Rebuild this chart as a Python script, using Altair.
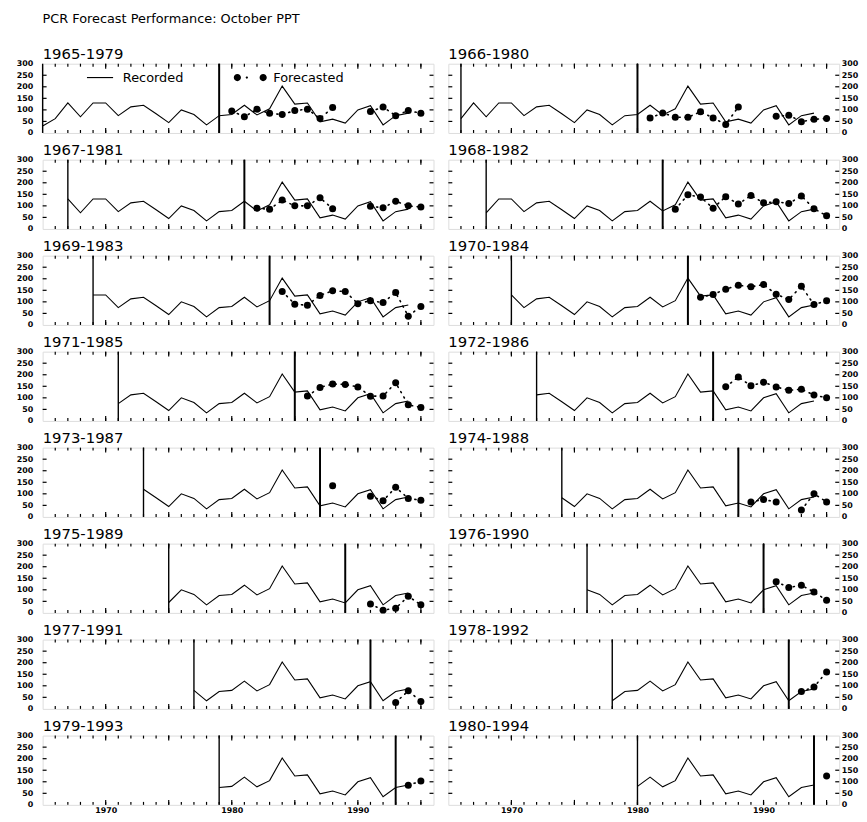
import altair as alt
import pandas as pd

# ---------------- data ----------------
rec_years = list(range(1965, 1995))
recorded = [30, 62, 130, 70, 130, 130, 75, 113, 120, 83, 45, 100, 80, 35, 75,
            80, 120, 78, 105, 203, 125, 130, 48, 60, 43, 100, 118, 35, 75, 86]

starts = list(range(1965, 1981))
ends = list(range(1979, 1995))
last_year = 1995

forecasts = [
    [95, 70, 103, 85, 80, 97, 103, 63, 110, None, None, 93, 112, 75, 97, 85],
    [65, 87, 68, 68, 92, 65, 37, 113, None, None, 72, 77, 49, 59, 63],
    [90, 85, 125, 100, 100, 135, 88, None, None, 98, 92, 120, 100, 95],
    [85, 148, 138, 90, 140, 108, 145, 113, 118, 110, 143, 88, 57],
    [145, 90, 85, 128, 148, 145, 92, 105, 97, 140, 38, 80],
    [120, 132, 155, 172, 165, 175, 133, 110, 168, 88, 105],
    [108, 145, 160, 158, 147, 107, 108, 165, 70, 58],
    [148, 190, 152, 168, 147, 133, 137, 112, 100],
    [135, None, None, 90, 70, 128, 80, 72],
    [65, 75, 65, None, 30, 100, 65],
    [None, 38, 12, 20, 72, 35],
    [135, 110, 120, 90, 55],
    [None, 28, 78, 32],
    [75, 95, 160],
    [85, 103],
    [125],
]

y_values = [0, 50, 100, 150, 200, 250, 300]
y_tick_values = [50, 100, 150, 200, 250]
x_label_years = [1970, 1980, 1990]
minor_tick_years = list(range(1966, 1996))
major_tick_years = [1970, 1975, 1980, 1985, 1990, 1995]
series_names = ["Recorded", "Forecasted"]
main_title = "PCR Forecast Performance: October PPT"

# ---------------- style ----------------
FONT = "DejaVu Sans"
W, H = 395, 70


def circ(cx, r):
    return f"M{cx - r},0A{r},{r} 0 1,0 {cx + r},0A{r},{r} 0 1,0 {cx - r},0Z"


line_path = "M-0.8,-0.035L0.8,-0.035L0.8,0.035L-0.8,0.035Z"
dots_path = circ(-0.8, 0.22) + circ(-0.22, 0.07) + circ(0.78, 0.22)

xscale = alt.Scale(domain=[1965, 1996], nice=False, zero=False)
yscale = alt.Scale(domain=[0, 300], nice=False, zero=True)


def make_panel(k, bottom):
    s, e = starts[k], ends[k]
    right = (k % 2 == 1)
    rec = pd.DataFrame({"year": rec_years, "value": recorded})
    rec = rec[rec["year"] >= s].reset_index(drop=True)
    fy = list(range(e + 1, last_year + 1))
    fc = pd.DataFrame({"year": fy, "value": forecasts[k]})

    yaxis = alt.Axis(orient="right" if right else "left", values=y_values,
                     ticks=False, domain=False, grid=False, title=None,
                     labelPadding=2 if right else 10, labelFontSize=8,
                     labelFontWeight="bold", labelFont=FONT, labelColor="black")
    if bottom:
        xaxis = alt.Axis(values=x_label_years, format="d", ticks=False,
                         domain=False, grid=False, title=None, labelPadding=2,
                         labelFontSize=8, labelFontWeight="bold", labelFont=FONT,
                         labelColor="black")
    else:
        xaxis = None
    X = alt.X("year:Q", scale=xscale, axis=xaxis)
    Y = alt.Y("value:Q", scale=yscale, axis=yaxis)

    layers = []
    # recorded
    layers.append(alt.Chart(rec).mark_line(color="black", strokeWidth=1.1)
                  .encode(x=X, y=Y))
    # forecasts: dotted connection + big dots
    layers.append(alt.Chart(fc).mark_line(color="black", strokeWidth=1.6,
                                          strokeDash=[1.2, 5], strokeCap="round")
                  .encode(x=X, y=Y))
    layers.append(alt.Chart(fc).mark_circle(color="black", size=50, opacity=1)
                  .encode(x=X, y=Y))
    # window boundary lines
    layers.append(alt.Chart(pd.DataFrame({"year": [s]})).mark_rule(color="black", strokeWidth=1.4)
                  .encode(x=X))
    layers.append(alt.Chart(pd.DataFrame({"year": [e]})).mark_rule(color="black", strokeWidth=2)
                  .encode(x=X))
    # inward ticks
    minor = pd.DataFrame({"year": minor_tick_years})
    major = pd.DataFrame({"year": major_tick_years})
    for df, ln in ((minor, 3), (major, 5)):
        layers.append(alt.Chart(df).mark_rule(color="black", strokeWidth=1.2)
                      .encode(x=X, y=alt.value(0), y2=alt.value(ln)))
        layers.append(alt.Chart(df).mark_rule(color="black", strokeWidth=1.2)
                      .encode(x=X, y=alt.value(H), y2=alt.value(H - ln)))
    yt = pd.DataFrame({"value": y_tick_values})
    layers.append(alt.Chart(yt).mark_rule(color="black", strokeWidth=1.2)
                  .encode(y=Y, x=alt.value(0), x2=alt.value(4)))
    layers.append(alt.Chart(yt).mark_rule(color="black", strokeWidth=1.2)
                  .encode(y=Y, x=alt.value(W), x2=alt.value(W - 4)))

    if k == 0:
        leg = pd.concat([rec.assign(series="Recorded"), fc.assign(series="Forecasted")])
        layers.append(
            alt.Chart(leg).mark_point(filled=True, opacity=0, color="black")
            .encode(x=X, y=Y,
                    shape=alt.Shape("series:N",
                                    scale=alt.Scale(domain=series_names,
                                                    range=[line_path, dots_path]),
                                    legend=alt.Legend(orient="none", legendX=41, legendY=-3,
                                                      direction="horizontal", title=None,
                                                      symbolSize=1089, symbolFillColor="black",
                                                      symbolStrokeColor="black",
                                                      symbolStrokeWidth=0.5,
                                                      symbolOpacity=1, labelFontSize=13,
                                                      labelFont=FONT, labelColor="black",
                                                      labelOffset=6, columnPadding=49,
                                                      padding=0)))
        )

    return alt.layer(*layers).properties(
        width=W, height=H,
        title=alt.TitleParams(f"{s}-{e}", anchor="start", frame="group", fontSize=15,
                              font=FONT, fontWeight="normal", color="black", offset=-2),
    )


rows = []
for r in range(8):
    rows.append(alt.hconcat(make_panel(2 * r, r == 7), make_panel(2 * r + 1, r == 7),
                            spacing=11))

chart = alt.vconcat(*rows, spacing=4).properties(
    title=alt.TitleParams(main_title, anchor="start", fontSize=13, font=FONT,
                          fontWeight="normal", color="black", dx=27, offset=21),
    padding={"left": 7, "top": 0, "right": 0, "bottom": 0},
    background="white",
).configure_view(stroke="black", strokeWidth=1.5).configure(font=FONT)

chart.save("out.html", embed_options={"renderer": "svg", "actions": False})
